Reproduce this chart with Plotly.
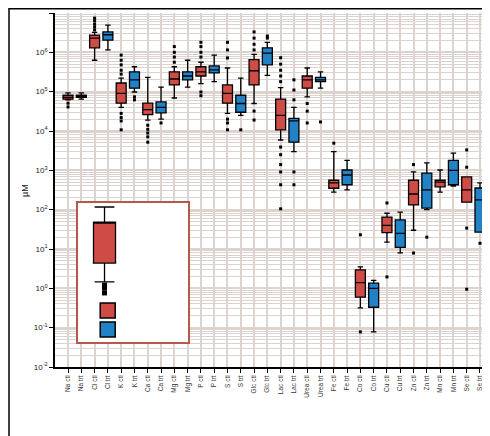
import plotly.graph_objects as go

# ---------------- data ----------------
categories = ["Na ctl", "Na trt", "Cl ctl", "Cl trt", "K ctl", "K trt",
              "Ca ctl", "Ca trt", "Mg ctl", "Mg trt", "P ctl", "P trt",
              "S ctl", "S trt", "Glc ctl", "Glc trt", "Lac ctl", "Lac trt",
              "Urea ctl", "Urea trt", "Fe ctl", "Fe trt", "Co ctl", "Co trt",
              "Cu ctl", "Cu trt", "Zn ctl", "Zn trt", "Mn ctl", "Mn trt",
              "Se ctl", "Se trt"]

lower = [6.2e4, 6.5e4, 6.3e5, 1.15e6, 4.0e4, 9.8e4, 1.9e4, 2.0e4, 6.9e4, 1.3e5, 1.6e5, 1.8e5,
         2.8e4, 2.5e4, 5.0e4, 2.6e5, 5.9e3, 3.0e3, 7.4e4, 1.23e5, 2.8e2, 3.2e2, 0.32, 0.078,
         15, 8, 30, 100, 280, 400, 155, 27]
q1 = [6.5e4, 7.2e4, 1.3e6, 2.05e6, 5.1e4, 1.23e5, 2.6e4, 2.9e4, 1.48e5, 2.0e5, 2.5e5, 3.0e5,
      5.1e4, 3.0e4, 1.48e5, 4.8e5, 1.07e4, 5.2e3, 1.23e5, 1.8e5, 3.5e2, 4.3e2, 0.6, 0.33,
      26, 11, 132, 110, 380, 430, 155, 27]
median = [7.2e4, 7.6e4, 2.3e6, 2.8e6, 9.0e4, 2.0e5, 3.5e4, 4.0e4, 2.1e5, 2.5e5, 3.2e5, 3.6e5,
          9.0e4, 5.0e4, 3.4e5, 9.5e5, 2.5e4, 1.8e4, 2.0e5, 2.0e5, 4.8e2, 7.6e2, 1.4, 1.0,
          40, 25, 250, 320, 500, 1000, 320, 178]
q3 = [8.1e4, 8.1e4, 2.75e6, 3.3e6, 1.66e5, 3.2e5, 5.1e4, 5.5e4, 3.2e5, 3.2e5, 4.3e5, 4.5e5,
      1.48e5, 8.1e4, 6.5e5, 1.3e6, 6.5e4, 2.1e4, 2.5e5, 2.3e5, 5.6e2, 1.02e3, 2.95, 1.35,
      65, 55, 560, 850, 560, 1800, 680, 355]
upper = [9.3e4, 9.3e4, 3.2e6, 4.9e6, 2.2e5, 4.3e5, 2.3e5, 1.3e5, 4.3e5, 6.3e5, 5.6e5, 8.5e5,
         4.0e5, 2.2e5, 8.9e5, 1.8e6, 1.26e5, 4.0e4, 4.0e5, 3.2e5, 3.0e3, 1.8e3, 3.5, 1.6,
         81, 87, 910, 1550, 1020, 2750, 680, 480]
outliers = [
    [5.1e4, 4.1e4], [],
    [7.4e6, 6.3e6, 5.2e6, 4.4e6, 3.7e6], [],
    [8.5e5, 6.3e5, 4.8e5, 3.5e5, 2.8e5, 2.8e4, 2.2e4, 1.8e4, 1.07e4], [7.4e4, 6.2e4],
    [1.4e4, 1.1e4, 8.9e3, 7.1e3, 5.2e3], [1.6e4],
    [1.4e6, 1.0e6, 7.6e5, 5.6e5], [],
    [1.8e6, 1.4e6, 1.0e6, 7.6e5, 9.8e4, 7.9e4], [],
    [1.8e6, 1.15e6, 7.2e5, 2.0e4, 1.6e4, 1.07e4], [1.07e4],
    [3.3e6, 2.3e6, 1.6e6, 1.15e6, 3.2e4, 1.9e4], [2.3e6, 2.6e6],
    [7.3e5, 5.0e5, 3.5e5, 2.5e5, 1.8e5, 3.9e3, 2.5e3, 1.4e3, 9.1e2, 4.3e2, 1.05e2],
    [2.0e5, 1.1e5, 6.2e4, 9.1e2, 4.3e2],
    [5.0e4, 3.2e4, 1.6e4], [1.7e4],
    [4.9e3], [],
    [23, 0.078], [],
    [148, 1.95], [],
    [1.4e3, 7.9], [20],
    [], [],
    [3.3e3, 1.2e3, 34, 0.95], [14],
]

# legend illustration (inset, unit coordinates)
legend_box = dict(q1=0.568, median=0.863, q3=0.863, lower=0.432, upper=0.971)
legend_outliers = [0.41, 0.388, 0.353]
legend_keys_y = [0.227, 0.09]

# ---------------- style ----------------
RED = "#cf4c46"
BLUE = "#2282c6"
GRID = "#dcd2ce"
FONT = "Liberation Sans"

xs = list(range(len(categories)))
red_idx = [i for i in xs if i % 2 == 0]
blue_idx = [i for i in xs if i % 2 == 1]

fig = go.Figure()

for idx, col in ((red_idx, RED), (blue_idx, BLUE)):
    fig.add_trace(go.Box(
        x=idx,
        q1=[q1[i] for i in idx], median=[median[i] for i in idx], q3=[q3[i] for i in idx],
        lowerfence=[lower[i] for i in idx], upperfence=[upper[i] for i in idx],
        fillcolor=col, line=dict(color="black", width=1.3), width=0.75,
        whiskerwidth=0.55, boxpoints=False, hoverinfo="skip",
    ))

ox, oy = [], []
for i, vals in enumerate(outliers):
    for v in vals:
        ox.append(i)
        oy.append(v)
fig.add_trace(go.Scatter(x=ox, y=oy, mode="markers",
                         marker=dict(symbol="square", size=3, color="black"),
                         hoverinfo="skip"))

# inset legend
fig.add_trace(go.Box(
    x=[0.241], q1=[legend_box["q1"]], median=[legend_box["median"]], q3=[legend_box["q3"]],
    lowerfence=[legend_box["lower"]], upperfence=[legend_box["upper"]],
    fillcolor=RED, line=dict(color="black", width=1.3), width=0.2, whiskerwidth=0.9,
    boxpoints=False, xaxis="x2", yaxis="y2", hoverinfo="skip"))
fig.add_trace(go.Scatter(x=[0.241] * len(legend_outliers), y=legend_outliers, mode="markers",
                         marker=dict(symbol="square", size=5, color="black"),
                         xaxis="x2", yaxis="y2", hoverinfo="skip"))
fig.add_trace(go.Scatter(x=[0.27, 0.27], y=legend_keys_y, mode="markers",
                         marker=dict(symbol="square", size=15, color=[RED, BLUE],
                                     line=dict(color="black", width=1.5)),
                         xaxis="x2", yaxis="y2", hoverinfo="skip"))

minor_vals = [m * 10 ** e for e in range(-2, 7) for m in range(2, 10)]

fig.update_layout(
    width=490, height=436,
    margin=dict(l=47, r=5, t=5, b=77),
    paper_bgcolor="white", plot_bgcolor="white",
    showlegend=False, boxmode="overlay",
    font=dict(family=FONT, color="#222222"),
    xaxis=dict(
        range=[-0.98, 31.98], tickvals=xs, ticktext=categories, tickangle=-90,
        tickfont=dict(size=6.5, color="#333333"),
        showgrid=True, gridcolor=GRID, gridwidth=1.6,
        showline=True, linecolor="black", linewidth=1.5,
        ticks="outside", ticklen=4, tickcolor="black", zeroline=False,
    ),
    yaxis=dict(
        type="log", range=[-2, 7],
        tickvals=[10 ** e for e in range(-2, 8)],
        ticktext=["10<sup>%d</sup>" % e for e in range(-2, 8)],
        tickfont=dict(size=8, color="#222222"),
        showgrid=True, gridcolor=GRID, gridwidth=2.4,
        minor=dict(tickvals=minor_vals, showgrid=True, gridcolor=GRID, gridwidth=1.1, ticks=""),
        showline=True, linecolor="black", linewidth=1.5,
        ticks="outside", ticklen=4, tickcolor="black", zeroline=False,
    ),
    xaxis2=dict(domain=[0.0525, 0.3037], range=[0, 1], anchor="y2",
                showgrid=False, zeroline=False, showticklabels=False, ticks="",
                showline=True, mirror=True, linecolor="#b8574a", linewidth=1.5),
    yaxis2=dict(domain=[0.0706, 0.4633], range=[0, 1], anchor="x2",
                showgrid=False, zeroline=False, showticklabels=False, ticks="",
                showline=True, mirror=True, linecolor="#b8574a", linewidth=1.5),
    shapes=[
        dict(type="rect", xref="x2", yref="y2", x0=0, x1=1, y0=0, y1=1,
             fillcolor="white", line=dict(width=0), layer="below"),
        dict(type="rect", xref="paper", yref="paper", x0=-0.105, x1=1.009,
             y0=-0.2147, y1=1.012, line=dict(color="black", width=1.5),
             fillcolor="rgba(0,0,0,0)", layer="above"),
    ],
    annotations=[
        dict(text="µM", xref="paper", yref="paper", x=-0.0845, y=0.5, textangle=-90,
             showarrow=False, font=dict(size=9, color="#222222")),
    ],
)

fig.write_html("out.html")
